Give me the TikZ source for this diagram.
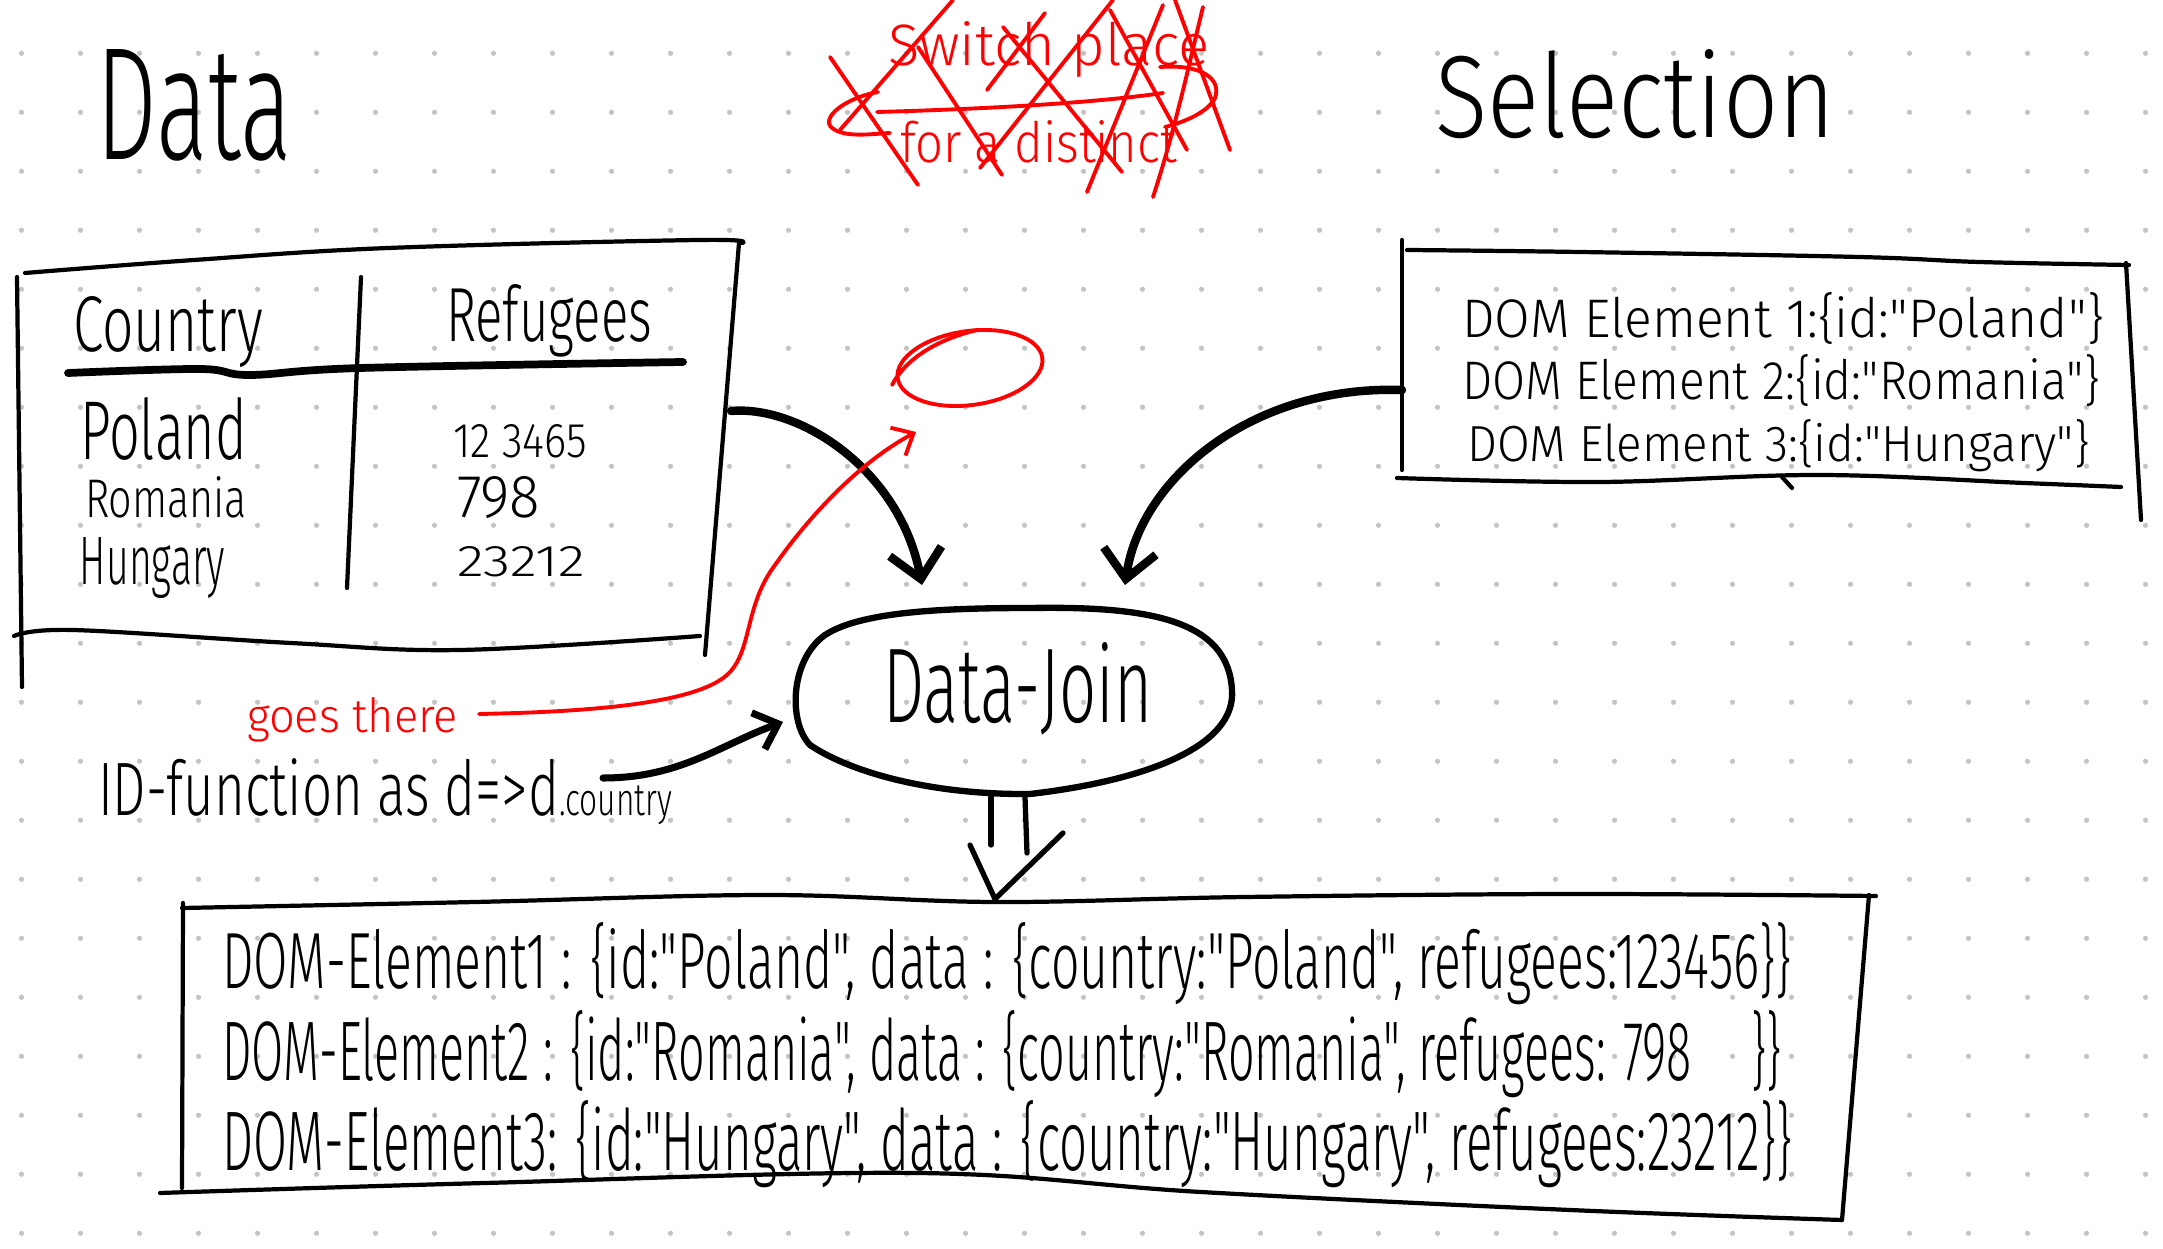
\documentclass[tikz,border=0pt]{standalone}
\usepackage{fontspec}
\setmainfont{Fira Sans}[UprightFont={* Light}, Ligatures=TeXOff]
\usepackage{graphicx}
\usetikzlibrary{arrows.meta,shapes.geometric}
\newlength\pxu
\setlength\pxu{0.01cm}
\newcommand\handtxt[3]{\resizebox{#1\pxu}{#2\pxu}{#3}}
\definecolor{dotgray}{HTML}{C4C4C4}
\definecolor{penred}{HTML}{FF0000}
\tikzset{
 txt/.style={anchor=base west, inner sep=0pt, outer sep=0pt},
 boxline/.style={line width=1.2pt, line cap=round, line join=round},
 headline/.style={line width=2.2pt, line cap=round},
 arrowline/.style={line width=2.4pt, line cap=round, -{Straight Barb[length=8pt, width=15pt]}},
 redline/.style={penred, line width=1.1pt, line cap=round, line join=round},
}
\begin{document}
\begin{tikzpicture}[x=0.01cm, y=-0.01cm]
\fill[white] (0,0) rectangle (2163,1249);
\useasboundingbox (0,0) rectangle (2163,1249);
\foreach \i in {0,...,36}{\foreach \j in {0,...,20}{\fill[dotgray] ({21.5+59*\i},{53.3+59*\j}) circle[radius=2.6];}}

% titles
\node[txt] (dataTitle) at (97,160) {\handtxt{195}{110}{Data}};
\node[txt] (selTitle) at (1435,138) {\handtxt{400}{88}{Selection}};

% crossed-out red note
\node[txt, text=penred] (noteA) at (888,66) {\handtxt{322}{44}{Switch place}};
\node[txt, text=penred] (noteB) at (900,163) {\handtxt{277}{42}{for a distinct}};
\begin{scope}[redline]
\draw (830,57) -- (918,185);
\draw (953,0) -- (840,130);
\draw (918,47) -- (1002,175);
\draw (1113,0) -- (980,168);
\draw (1003,27) -- (1122,172);
\draw (1045,13) -- (987,90);
\draw (1163,5) -- (1087,192);
\draw (1110,10) -- (1187,150);
\draw (1203,7) .. controls (1190,60) and (1175,130) .. (1153,197);
\draw (1175,0) -- (1230,150);
\draw (877,112) .. controls (950,110) and (1080,105) .. (1163,93);
\draw (878,92) .. controls (845,98) and (820,118) .. (832,128) .. controls (845,138) and (870,134) .. (890,133);
\draw (1160,67) .. controls (1200,64) and (1222,78) .. (1215,98) .. controls (1208,112) and (1185,122) .. (1165,127);
\end{scope}

% left table
\draw[boxline] plot[smooth, tension=0.6] coordinates {(25,273) (194,260) (388,248) (698,240) (742,243)};
\draw[boxline] (17,277) -- (22,687);
\draw[boxline] (739,243) -- (705,655);
\draw[boxline] plot[smooth, tension=0.6] coordinates {(14,636) (73,630) (291,643) (460,650) (700,636)};
\draw[headline] plot[smooth, tension=0.6] coordinates {(68,373) (200,369) (250,375) (361,368) (683,362)};
\draw[boxline] (361,277) -- (347,588);
\node[txt] (hCountry) at (73,352) {\handtxt{190}{55}{Country}};
\node[txt] (hRefugees) at (446,342) {\handtxt{206}{57}{Refugees}};
\node[txt] (cPoland) at (80,460) {\handtxt{167}{62}{Poland}};
\node[txt] (cRomania) at (85,518) {\handtxt{162}{41}{Romania}};
\node[txt] (cHungary) at (80,585) {\handtxt{145}{47}{Hungary}};
\node[txt] (nPoland) at (453,458) {\handtxt{134}{33}{12 3465}};
\node[txt] (nRomania) at (457,518) {\handtxt{83}{41}{798}};
\node[txt] (nHungary) at (457,577) {\handtxt{128}{30}{23212}};
\coordinate (tabR) at (731,411);

% right box (selection)
\draw[boxline] plot[smooth, tension=0.6] coordinates {(1407,250) (1580,252) (1859,257) (1979,262) (2129,265)};
\draw[boxline] (1402,240) -- (1402,470);
\draw[boxline] (2126,263) -- (2141,520);
\draw[boxline] plot[smooth, tension=0.6] coordinates {(1397,478) (1600,482) (1819,475) (2024,483) (2121,487)};
\draw[boxline] (1782,477) -- (1792,488);
\node[txt] (sel1) at (1462,338) {\handtxt{642}{45}{DOM Element 1:\{id:"Poland"\}}};
\node[txt] (sel2) at (1462,400) {\handtxt{638}{45}{DOM Element 2:\{id:"Romania"\}}};
\node[txt] (sel3) at (1467,462) {\handtxt{623}{42}{DOM Element 3:\{id:"Hungary"\}}};
\coordinate (selL) at (1402,390);

% data join
\draw[line width=1.8pt] (1030,608) .. controls (1150,606) and (1228,620) .. (1232,690)
  .. controls (1236,745) and (1150,780) .. (1030,794)
  .. controls (930,795) and (850,772) .. (810,745)
  .. controls (788,722) and (790,660) .. (825,635)
  .. controls (860,612) and (940,608) .. (1030,608);
\node[txt] (joinTxt) at (883,722) {\handtxt{269}{80}{Data-Join}};
\coordinate (joinL) at (922,585);
\coordinate (joinR) at (1125,585);
\coordinate (joinW) at (783,722);

% arrows into join
\draw[arrowline] (tabR) .. controls (800,405) and (900,470) .. (joinL);
\draw[arrowline] (selL) .. controls (1250,385) and (1140,480) .. (joinR);

% id function
\node[txt] (idFun) at (98,815) {\handtxt{574}{57}{ID-function as d=>d{\fontsize{6}{7}\selectfont.country}}};
\coordinate (idEnd) at (603,778);
\draw[line width=2pt, line cap=round, -{Straight Barb[length=6pt, width=11pt]}] (idEnd) .. controls (680,778) and (720,745) .. (joinW);

% red note "goes there"
\node[txt, text=penred] (goes) at (247,732) {\handtxt{211}{35}{goes there}};
\coordinate (goesEnd) at (479,714);
\coordinate (redTip) at (916,432);
\draw[redline, -{Straight Barb[length=5pt, width=9pt]}] (goesEnd) .. controls (580,712) and (700,705) .. (730,672)
  .. controls (752,648) and (745,605) .. (775,565)
  .. controls (810,515) and (860,462) .. (redTip);
\node[draw=penred, line width=1.1pt, ellipse, minimum width=146\pxu, minimum height=74\pxu, rotate=8, inner sep=0pt] (redCircle) at (970,368) {};
\draw[redline] (892,385) .. controls (905,360) and (935,340) .. (977,330);

% down arrow
\coordinate (jb1) at (991,797);
\coordinate (jb2) at (1025,797);
\coordinate (resTop) at (995,899);
\draw[boxline, line width=1.5pt] (jb1) -- (991,845);
\draw[boxline, line width=1.5pt] (jb2) -- (1027,853);
\draw[boxline, line width=1.5pt] (970,845) -- (resTop) -- (1063,833);

% bottom result box
\draw[boxline] plot[smooth, tension=0.6] coordinates {(182,908) (475,902) (767,895) (995,902) (1245,897) (1570,894) (1876,896)};
\draw[boxline] (183,903) -- (182,1188);
\draw[boxline] plot[smooth, tension=0.6] coordinates {(160,1193) (485,1183) (919,1173) (1201,1192) (1570,1210) (1842,1220)};
\draw[boxline] (1869,895) -- (1842,1220);
\node[txt] (res1) at (222,988) {\handtxt{1570}{66}{DOM-Element1 : \{id:"Poland", data : \{country:"Poland", refugees:123456\}\}}};
\node[txt] (res2) at (222,1080) {\handtxt{1560}{70}{DOM-Element2 : \{id:"Romania", data : \{country:"Romania", refugees: 798 \quad\}\}}};
\node[txt] (res3) at (222,1170) {\handtxt{1570}{70}{DOM-Element3: \{id:"Hungary", data : \{country:"Hungary", refugees:23212\}\}}};
\end{tikzpicture}
\end{document}
